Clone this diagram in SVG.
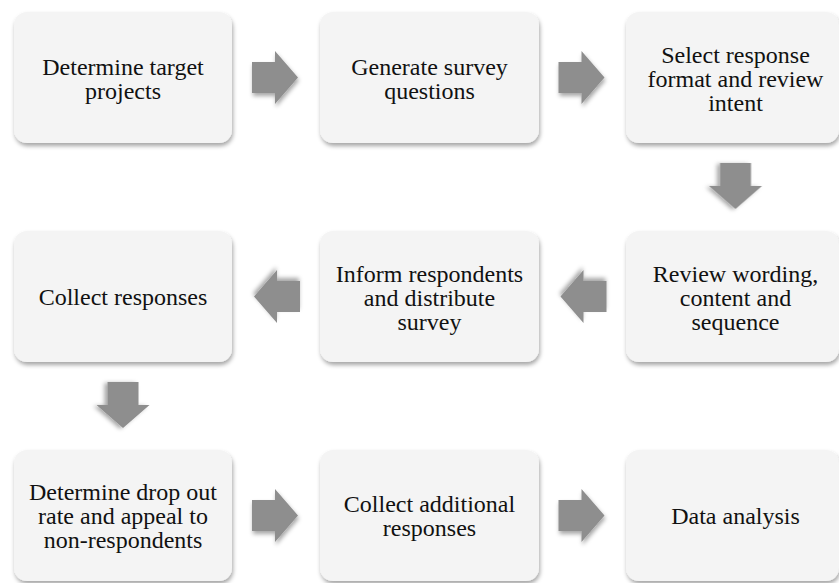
<svg xmlns="http://www.w3.org/2000/svg" xmlns:xlink="http://www.w3.org/1999/xlink" width="839" height="583" viewBox="0 0 839 583">
<defs>
<filter id="sh" x="-20%" y="-20%" width="140%" height="150%">
<feDropShadow dx="1" dy="3" stdDeviation="2.2" flood-color="#000" flood-opacity="0.35"/>
</filter>
<path id="arr" d="M-24,-15.5 H-1 V-26.5 L22,0 L-1,26.5 V15.5 H-24 Z"/>
<style>
.box{fill:#f4f4f4;filter:url(#sh);}
.arrow{fill:#8e8e8e;filter:url(#sh);}
text{font-family:"Liberation Serif","Times New Roman",serif;font-size:24px;fill:#111;text-anchor:middle;}
</style>
</defs>
<rect width="839" height="583" fill="#ffffff"/>
<g id="connectors">
<use href="#arr" class="arrow" transform="translate(276,77.5)"/>
<use href="#arr" class="arrow" transform="translate(582.5,77.5)"/>
<use href="#arr" class="arrow" transform="translate(735.5,187) rotate(90)"/>
<use href="#arr" class="arrow" transform="translate(582.5,296.5) rotate(180)"/>
<use href="#arr" class="arrow" transform="translate(276,296.5) rotate(180)"/>
<use href="#arr" class="arrow" transform="translate(123,406) rotate(90)"/>
<use href="#arr" class="arrow" transform="translate(276,515.5)"/>
<use href="#arr" class="arrow" transform="translate(582.5,515.5)"/>
</g>
<g id="n1"><rect class="box" x="14" y="12" width="218" height="131" rx="13"/>
<text x="123" y="75">Determine target</text><text x="123" y="99">projects</text></g>
<g id="n2"><rect class="box" x="320" y="12" width="219" height="131" rx="13"/>
<text x="429.5" y="75">Generate survey</text><text x="429.5" y="99">questions</text></g>
<g id="n3"><rect class="box" x="626" y="12" width="213" height="131" rx="13"/>
<text x="735.5" y="63">Select response</text><text x="735.5" y="87">format and review</text><text x="735.5" y="111">intent</text></g>
<g id="n4"><rect class="box" x="626" y="231" width="213" height="131" rx="13"/>
<text x="735.5" y="282">Review wording,</text><text x="735.5" y="306">content and</text><text x="735.5" y="330">sequence</text></g>
<g id="n5"><rect class="box" x="320" y="231" width="219" height="131" rx="13"/>
<text x="429.5" y="282">Inform respondents</text><text x="429.5" y="306">and distribute</text><text x="429.5" y="330">survey</text></g>
<g id="n6"><rect class="box" x="14" y="231" width="218" height="131" rx="13"/>
<text x="123" y="305">Collect responses</text></g>
<g id="n7"><rect class="box" x="14" y="450" width="218" height="131" rx="13"/>
<text x="123" y="500">Determine drop out</text><text x="123" y="524">rate and appeal to</text><text x="123" y="548">non-respondents</text></g>
<g id="n8"><rect class="box" x="320" y="450" width="219" height="131" rx="13"/>
<text x="429.5" y="512">Collect additional</text><text x="429.5" y="536">responses</text></g>
<g id="n9"><rect class="box" x="626" y="450" width="213" height="131" rx="13"/>
<text x="735.5" y="524">Data analysis</text></g>
</svg>
